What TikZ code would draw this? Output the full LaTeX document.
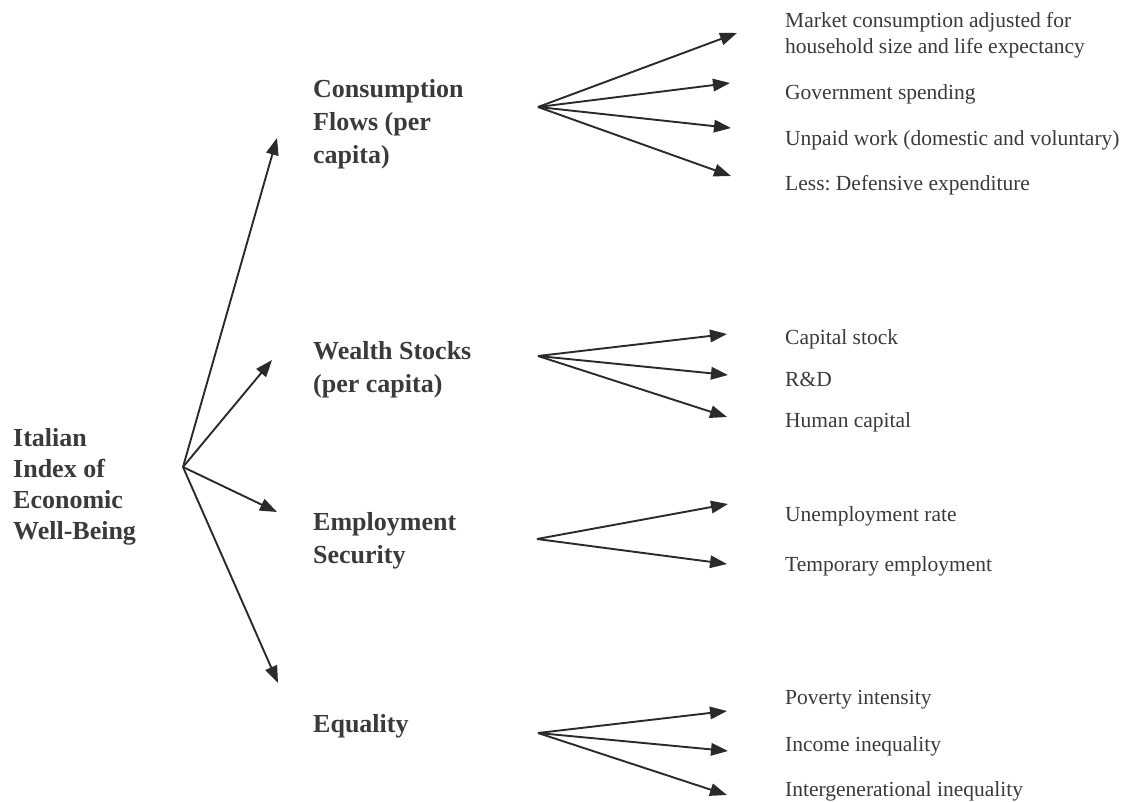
\documentclass[tikz,border=0pt]{standalone}
\usepackage{fontspec}
\setmainfont{Liberation Serif}
\usetikzlibrary{arrows.meta}
\definecolor{ink}{HTML}{2A2A2A}
\definecolor{txt}{HTML}{3A3A3A}
\frenchspacing
\begin{document}
\begin{tikzpicture}[x=1pt,y=-1pt,
  arr/.style={draw=ink, line width=1.9pt, -{Triangle[length=17pt,width=12.5pt]}},
  head/.style={font=\fontsize{26}{33}\selectfont\bfseries\frenchspacing, text=txt, align=left, anchor=base west, inner sep=0pt},
  rootlbl/.style={head, font=\fontsize{26}{31}\selectfont\bfseries},
  leaf/.style={font=\fontsize{21.5}{25.5}\selectfont\frenchspacing, text=txt, align=left, anchor=base west, inner sep=0pt}]
\useasboundingbox (0,0) rectangle (1125,802);
% root (anchor = baseline of last line)
\node[rootlbl] (root) at (13,539) {Italian\\Index of\\Economic\\Well-Being};
\coordinate (rh) at (183,467);
% categories
\node[head] (cons) at (313,164) {Consumption\\Flows (per\\capita)};
\node[head] (wealth) at (313,392) {Wealth Stocks\\(per capita)};
\node[head] (empl) at (313,563) {Employment\\Security};
\node[head] (equ) at (313,732) {Equality};
\coordinate (tc) at (277,138);
\coordinate (tw) at (272,360);
\coordinate (te) at (277,512);
\coordinate (tq) at (278,683);
\draw[arr] (rh) -- (tc);
\draw[arr] (rh) -- (tw);
\draw[arr] (rh) -- (te);
\draw[arr] (rh) -- (tq);
% hubs
\coordinate (hc) at (538,107);
\coordinate (hw) at (538,356);
\coordinate (he) at (537,539);
\coordinate (hq) at (538,733);
% leaves
\node[leaf] (l1) at (785,53.5) {Market consumption adjusted for\\household size and life expectancy};
\node[leaf] (l2) at (785,100) {Government spending};
\node[leaf] (l3) at (785,146) {Unpaid work (domestic and voluntary)};
\node[leaf] (l4) at (785,191) {Less: Defensive expenditure};
\node[leaf] (l5) at (785,345) {Capital stock};
\node[leaf] (l6) at (785,386) {R\&D};
\node[leaf] (l7) at (785,427) {Human capital};
\node[leaf] (l8) at (785,521) {Unemployment rate};
\node[leaf] (l9) at (785,571) {Temporary employment};
\node[leaf] (l10) at (785,704) {Poverty intensity};
\node[leaf] (l11) at (785,751) {Income inequality};
\node[leaf] (l12) at (785,796) {Intergenerational inequality};
% tips
\coordinate (t1) at (737,33);
\coordinate (t2) at (730,83);
\coordinate (t3) at (731,128);
\coordinate (t4) at (731,176);
\coordinate (t5) at (727,334);
\coordinate (t6) at (728,375);
\coordinate (t7) at (727,417);
\coordinate (t8) at (728,504);
\coordinate (t9) at (727,564);
\coordinate (t10) at (727,711);
\coordinate (t11) at (728,751);
\coordinate (t12) at (727,795);
\foreach \t in {t1,t2,t3,t4} \draw[arr] (hc) -- (\t);
\foreach \t in {t5,t6,t7} \draw[arr] (hw) -- (\t);
\foreach \t in {t8,t9} \draw[arr] (he) -- (\t);
\foreach \t in {t10,t11,t12} \draw[arr] (hq) -- (\t);
\end{tikzpicture}
\end{document}
